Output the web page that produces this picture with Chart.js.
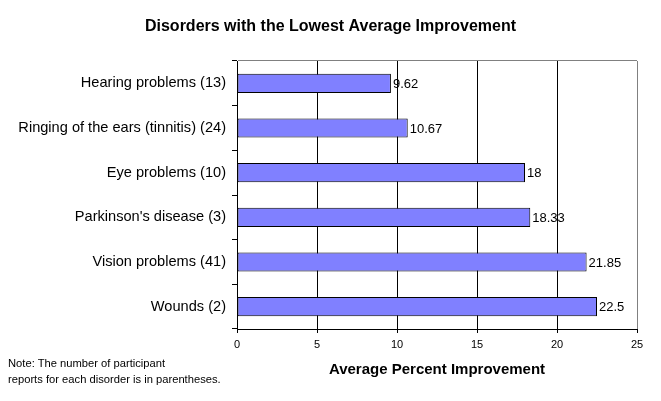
<!DOCTYPE html>
<html>
<head>
<meta charset="utf-8">
<script src="https://cdn.jsdelivr.net/npm/chart.js@4"></script>
<style>
  html, body { margin: 0; padding: 0; background: #fff; }
  #wrap { position: relative; width: 661px; height: 401px; }
  #note { position: absolute; left: 8px; top: 355px; font: 11.2px "Liberation Sans", Arial, sans-serif; line-height: 16px; color: #000; }
</style>
</head>
<body>
<div id="wrap">
  <canvas id="c" width="661" height="401"></canvas>
  <div id="note">Note: The number of participant<br>reports for each disorder is in parentheses.</div>
</div>
<script>
const categories = [
  "Hearing problems (13)",
  "Ringing of the ears (tinnitis) (24)",
  "Eye problems (10)",
  "Parkinson's disease (3)",
  "Vision problems (41)",
  "Wounds (2)"
];
const improvement = [9.62, 10.67, 18, 18.33, 21.85, 22.5];
const xTicks = [0, 5, 10, 15, 20, 25];
const chartTitle = "Disorders with the Lowest Average Improvement";
const xTitle = "Average Percent Improvement";

const FONT = '"Liberation Sans", Arial, sans-serif';

const valueLabels = {
  id: 'valueLabels',
  afterDatasetsDraw(chart) {
    const ctx = chart.ctx;
    const meta = chart.getDatasetMeta(0);
    ctx.save();
    ctx.font = '13px ' + FONT;
    ctx.fillStyle = '#000';
    ctx.textAlign = 'left';
    ctx.textBaseline = 'middle';
    meta.data.forEach((bar, i) => {
      ctx.fillText(String(improvement[i]), bar.x + 2, bar.y + 1);
    });
    ctx.restore();
  }
};

const pageTitle = {
  id: 'pageTitle',
  afterDraw(chart) {
    const ctx = chart.ctx;
    ctx.save();
    ctx.font = 'bold 16px ' + FONT;
    ctx.fillStyle = '#000';
    ctx.textAlign = 'center';
    ctx.textBaseline = 'middle';
    ctx.fillText(chartTitle, chart.width / 2, 27);
    ctx.restore();
  }
};

new Chart(document.getElementById('c'), {
  type: 'bar',
  data: {
    labels: categories,
    datasets: [{
      data: improvement,
      backgroundColor: '#8080FF',
      borderColor: '#000',
      borderWidth: 1,
      borderSkipped: false,
      barPercentage: 0.43,
      categoryPercentage: 1
    }]
  },
  options: {
    indexAxis: 'y',
    responsive: false,
    animation: false,
    devicePixelRatio: 1,
    layout: { padding: { left: 0, right: 24, top: 61, bottom: 0 } },
    plugins: {
      legend: { display: false },
      tooltip: { enabled: false },
      title: { display: false }
    },
    scales: {
      x: {
        min: 0, max: 25,
        afterBuildTicks(scale) { scale.ticks = xTicks.map(v => ({ value: v })); },
        afterFit(scale) { scale.height = 72; },
        border: { display: true, color: '#000', width: 1 },
        grid: {
          color: ctx => (ctx.tick && ctx.tick.value === 25) ? '#808080' : '#000',
          tickColor: '#000',
          tickLength: 4,
          lineWidth: 1
        },
        ticks: {
          color: '#000',
          font: { family: FONT, size: 11 },
          padding: 5,
          maxRotation: 0
        },
        title: {
          display: true,
          text: xTitle,
          color: '#000',
          font: { family: FONT, size: 15, weight: 'bold' },
          padding: { top: 0, bottom: 22 }
        }
      },
      y: {
        afterFit(scale) { scale.width = 237; },
        border: { display: true, color: '#000', width: 1 },
        grid: {
          offset: true,
          drawOnChartArea: true,
          color: ctx => ctx.index === 0 ? '#808080' : 'rgba(0,0,0,0)',
          tickColor: '#000',
          tickLength: 5
        },
        ticks: {
          color: '#000',
          font: { family: FONT, size: 14.6 },
          padding: 6
        }
      }
    }
  },
  plugins: [valueLabels, pageTitle]
});
</script>
</body>
</html>
